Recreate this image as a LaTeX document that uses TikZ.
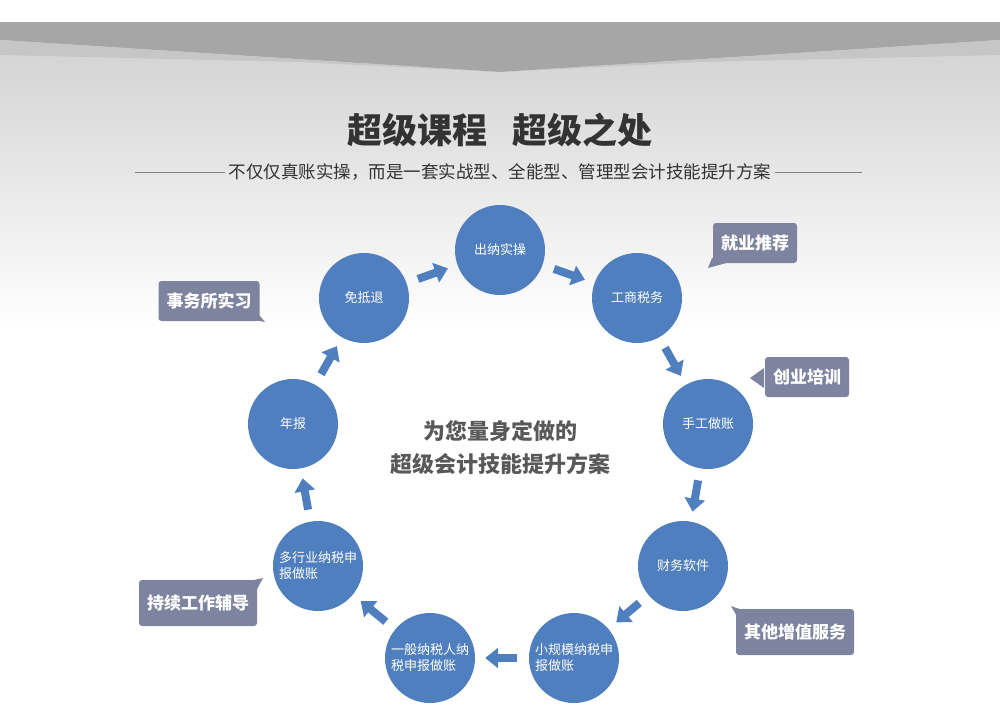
\documentclass[tikz,border=0pt]{standalone}
\usepackage{fontspec}
\setmainfont{Noto Sans CJK SC}
\usetikzlibrary{arrows.meta,shapes.callouts}
\definecolor{cblue}{HTML}{4F7FBE}
\definecolor{cgray}{HTML}{7E849F}
\tikzset{
 stage/.style={circle,fill=cblue,minimum size=90pt,inner sep=0pt,text=white,font=\fontsize{13}{16}\selectfont,align=left},
 flow/.style={-{Triangle[length=13pt,width=20pt]},line width=8pt,draw=cblue,shorten <=12pt,shorten >=10pt},
 tag/.style={fill=cgray,text=white,font=\bfseries\fontsize{17}{19}\selectfont,rounded corners=3pt,inner xsep=8pt,minimum height=40pt}
}
\begin{document}
\begin{tikzpicture}[x=1pt,y=-1pt]
\useasboundingbox (0,0) rectangle (1000,716);
\shade[top color=gray!40,bottom color=white] (0,0) rectangle (1000,330);
\fill[white] (0,330) rectangle (1000,716);
\fill[white] (0,0) rectangle (1000,22);
\fill[gray!70] (0,22) -- (1000,22) -- (1000,40) -- (500,72) -- (0,40) -- cycle;
\fill[gray!45] (0,40) -- (500,72) -- (1000,40) -- (1000,55) -- (700,62) -- (500,72) -- (300,62) -- (0,55) -- cycle;
\node[font=\bfseries\fontsize{35}{38}\selectfont,text=black!80] (title) at (500,130) {超级课程\hspace{25pt}超级之处};
\node[font=\fontsize{17.5}{19}\selectfont,text=black!80] (sub) at (500,172) {不仅仅真账实操，而是一套实战型、全能型、管理型会计技能提升方案};
\coordinate (l1) at (135,172); \coordinate (l2) at (225,172);
\coordinate (r1) at (775,172); \coordinate (r2) at (862,172);
\draw[gray] (l1) -- (l2); \draw[gray] (r1) -- (r2);
\node[stage] (a) at (500,250) {出纳实操};
\node[stage] (b) at (637,298) {工商税务};
\node[stage] (c) at (708,424) {手工做账};
\node[stage] (d) at (683,566) {财务软件};
\node[stage] (e) at (574,658) {小规模纳税申\\报做账};
\node[stage] (f) at (430,658) {一般纳税人纳\\税申报做账};
\node[stage] (g) at (318,566) {多行业纳税申\\报做账};
\node[stage] (h) at (293,424) {年报};
\node[stage] (i) at (364,298) {免抵退};
\foreach \u/\v in {a/b,b/c,c/d,d/e,e/f,f/g,g/h,h/i,i/a} \draw[flow] (\u) -- (\v);
\node[font=\bfseries\fontsize{22}{33}\selectfont,text=black!65,align=center] (mid) at (500,448) {为您量身定做的\\超级会计技能提升方案};
\node[tag] (t1) at (755,243) {就业推荐};
\fill[cgray] (712,258) -- (730,262) -- (708,268) -- cycle;
\node[tag] (t2) at (807,377) {创业培训};
\fill[cgray] (764,368) -- (750,378) -- (764,388) -- cycle;
\node[tag] (t3) at (209,301) {事务所实习};
\fill[cgray] (245,318) -- (265,322) -- (255,310) -- cycle;
\node[tag,minimum height=46pt] (t4) at (198,603) {持续工作辅导};
\fill[cgray] (245,582) -- (263,578) -- (254,595) -- cycle;
\node[tag,minimum height=46pt] (t5) at (795,632) {其他增值服务};
\fill[cgray] (748,612) -- (731,606) -- (742,625) -- cycle;
\end{tikzpicture}
\end{document}
